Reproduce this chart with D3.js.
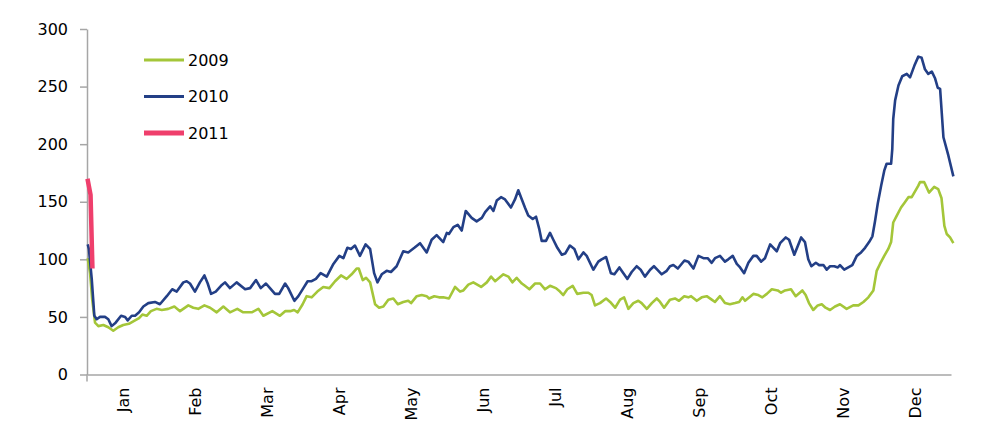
<!DOCTYPE html>
<html>
<head>
<meta charset="utf-8">
<script src="https://cdn.jsdelivr.net/npm/d3@7"></script>
<style>
  html, body { margin: 0; padding: 0; background: #ffffff; }
  svg { display: block; }
  text { font-family: "DejaVu Sans", Verdana, sans-serif; fill: #000; }
</style>
</head>
<body>
<svg id="chart" width="996" height="446"></svg>
<script>
// ---- data ----
const months = ["Jan","Feb","Mar","Apr","May","Jun","Jul","Aug","Sep","Oct","Nov","Dec"];
const yTicks = [0, 50, 100, 150, 200, 250, 300];
const seriesNames = ["2009", "2010", "2011"];

// [day of year, value]
const s2009 = [
[0.3,101],[1.3,88],[2.2,65],[3.4,45],[4.8,42],[6.9,43],[9.0,41],[11.1,38],[13.2,41],[15.3,43],
[17.7,44],[20.3,47],[22.0,49],[23.4,52],[25.2,51],[27.0,55],[29.4,57],[31.6,56],[34.3,57],[36.9,59],
[39.3,55],[42.8,60],[44.9,58],[47.0,57],[49.6,60],[52.0,58],[54.8,54],[57.6,59],[60.4,54],[63.5,57],
[66.0,54],[69.6,54],[72.4,57],[74.5,51],[78.3,55],[81.5,51],[83.7,55],[85.8,55],[87.5,56],[89.0,54],
[91.1,61],[92.8,68],[94.9,67],[97.3,72],[99.8,76],[102.4,75],[104.8,81],[107.3,86],[109.7,83],[111.8,87],
[113.9,92],[114.8,92],[116.5,82],[117.9,84],[119.6,80],[121.7,61],[123.4,58],[125.2,59],[127.3,65],[129.4,66],
[131.3,61],[133.6,63],[135.7,64],[136.9,62],[139.3,68],[141.4,69],[143.5,68],[144.5,66],[146.7,68],[148.7,67],
[150.5,67],[152.9,66],[155.5,76],[157.6,72],[159.0,73],[161.1,78],[163.2,80],[166.5,76],[168.9,80],[170.7,85],
[172.4,81],[175.9,87],[178.0,85],[179.7,80],[181.5,84],[183.7,79],[185.0,77],[186.9,74],[189.3,79],[191.4,79],
[193.5,74],[195.6,77],[198.1,75],[199.8,72],[201.2,69],[202.9,74],[205.2,77],[207.1,70],[209.7,71],[211.8,71],
[213.2,69],[214.6,60],[216.7,62],[219.3,66],[221.0,63],[223.1,58],[225.2,65],[226.9,67],[228.7,57],[230.8,62],
[232.9,64],[234.3,62],[236.5,57],[238.6,62],[240.7,66],[242.1,63],[243.8,58],[246.3,65],[248.4,66],[250.1,64],
[252.3,68],[254.0,67],[255.2,68],[257.6,64],[259.7,67],[261.8,68],[263.9,65],[265.3,63],[267.4,68],[269.5,62],
[271.6,61],[273.8,62],[275.5,63],[276.9,67],[278.0,64],[281.5,70],[283.6,69],[285.3,67],[287.2,70],[289.3,74],
[291.8,73],[293.2,71],[294.9,73],[297.4,74],[299.4,68],[302.2,73],[303.6,69],[305.0,62],[306.8,56],[308.7,60],
[310.4,61],[312.0,58],[313.9,56],[316.0,59],[318.1,61],[320.9,57],[323.7,60],[325.9,60],[328.0,63],[330.1,67],
[332.2,73],[333.6,90],[335.0,96],[336.8,103],[338.5,109],[339.7,115],[340.6,132],[342.1,138],[343.9,145],[345.3,149],
[347.0,154],[348.4,154],[349.5,158],[351.2,164],[351.9,167],[353.7,167],[355.7,158],[357.9,163],[359.6,161],[361.0,153],
[362.2,129],[363.2,122],[364.6,119],[366.0,114]
];

const s2010 = [
[0.3,113],[0.8,109],[2.0,83],[3.1,51],[4.1,48],[5.5,50],[7.6,50],[9.0,48],[10.4,42],[12.1,45],
[14.4,51],[16.1,50],[17.2,47],[18.9,51],[20.3,51],[22.0,54],[23.8,59],[25.9,62],[28.7,63],[30.8,61],
[33.7,68],[36.0,74],[37.9,72],[40.7,80],[42.1,81],[43.5,79],[45.6,72],[47.7,80],[49.6,86],[51.0,79],
[52.4,70],[54.4,72],[56.6,77],[58.3,80],[60.4,75],[63.2,80],[66.8,74],[68.9,75],[71.4,82],[73.4,75],
[75.6,79],[77.3,75],[79.4,70],[81.2,70],[83.7,79],[85.0,75],[87.6,64],[89.3,68],[91.4,75],[93.2,81],
[94.9,81],[96.7,83],[98.7,88],[101.3,85],[104.1,96],[106.6,103],[108.3,101],[110.0,110],[111.5,109],[113.2,112],
[115.3,103],[117.7,113],[119.6,109],[121.3,88],[122.7,80],[124.5,87],[126.6,90],[128.4,89],[130.8,94],[133.6,107],
[135.7,106],[138.3,110],[140.7,114],[143.5,106],[145.6,117],[147.7,121],[150.5,115],[152.0,123],[152.9,122],[154.8,128],
[156.6,130],[158.3,125],[160.0,142],[162.5,136],[164.6,133],[166.8,136],[168.2,141],[170.3,146],[171.7,142],[173.1,151],
[174.9,154],[176.6,152],[179.1,145],[180.8,152],[182.2,160],[183.7,152],[185.0,145],[186.4,138],[188.3,135],[189.7,137],
[191.1,126],[192.1,116],[193.9,116],[195.6,123],[197.0,117],[198.7,110],[200.6,104],[202.0,105],[204.0,112],[205.9,109],
[207.6,100],[209.7,106],[211.1,103],[213.9,91],[216.0,98],[217.4,100],[219.3,102],[221.3,88],[222.8,87],[224.9,93],
[226.6,88],[228.3,83],[230.1,89],[232.2,94],[233.9,91],[235.7,85],[237.9,91],[239.5,94],[240.9,91],[242.8,87],
[244.9,90],[246.3,94],[247.7,95],[249.6,92],[252.4,99],[254.0,98],[256.2,92],[258.3,103],[260.4,101],[262.2,101],
[263.9,97],[265.3,101],[267.4,103],[269.5,98],[270.9,100],[272.8,103],[274.5,96],[275.9,93],[277.6,88],[279.4,97],
[281.5,103],[282.9,103],[284.8,98],[286.4,101],[288.6,113],[290.0,110],[291.4,107],[292.8,114],[295.2,119],[296.6,117],
[298.8,104],[301.7,119],[303.3,115],[304.7,100],[306.0,94],[307.9,97],[309.3,95],[311.1,95],[312.5,91],[313.9,94],
[315.7,94],[317.2,93],[318.1,95],[319.9,91],[321.6,93],[323.3,95],[325.2,103],[327.0,106],[328.7,110],[330.4,115],
[331.8,120],[332.9,133],[334.1,149],[335.5,164],[336.8,177],[337.8,183],[339.7,183],[340.2,196],[340.6,222],[341.4,238],
[342.8,251],[344.4,259],[346.3,261],[347.7,258],[349.5,268],[351.2,276],[352.6,275],[354.0,265],[355.4,261],[356.9,263],
[358.3,257],[359.4,249],[360.4,248],[361.8,206],[363.9,190],[366.0,172]
];

const s2011 = [[0.2,170],[1.5,156],[2.3,92]];

const colors = { "2009": "#a4c639", "2010": "#233f86", "2011": "#ef3f6c" };
const widths = { "2009": 2.6, "2010": 2.6, "2011": 4.5 };

// ---- layout ----
const svg = d3.select("#chart");
const mLeft = 87, mRight = 951, mTop = 29, mBottom = 374.5;

const x = d3.scaleLinear().domain([0, 365]).range([mLeft, mRight]);
const xm = d3.scaleBand().domain(months).range([mLeft, mRight]);
const y = d3.scaleLinear().domain([0, 300]).range([mBottom, mTop]);

const axisColor = "#a6a6a6";

// y axis
const gy = svg.append("g").attr("transform", `translate(${mLeft},0)`)
  .call(d3.axisLeft(y).tickValues(yTicks).tickSize(7).tickPadding(12).tickSizeOuter(0));
gy.select(".domain").attr("stroke", axisColor).attr("stroke-width", 1.5);
gy.selectAll(".tick line").attr("stroke", axisColor).attr("stroke-width", 1.5);
gy.selectAll(".tick text").style("font-family", '"DejaVu Sans", Verdana, sans-serif')
  .style("font-size", "16px").attr("fill", "#000");

// x axis
const gx = svg.append("g").attr("transform", `translate(0,${mBottom})`)
  .call(d3.axisBottom(xm).tickSize(0).tickSizeOuter(0).tickPadding(0));
gx.select(".domain").attr("stroke", axisColor).attr("stroke-width", 1.5);
gx.selectAll(".tick text")
  .style("font-family", '"DejaVu Sans", Verdana, sans-serif')
  .style("font-size", "16px").attr("fill", "#000")
  .attr("text-anchor", "end")
  .attr("dy", "0.35em")
  .attr("transform", "translate(0,13) rotate(-90)")
  .attr("x", 0).attr("y", 0);
gx.append("line").attr("x1", mLeft).attr("x2", mLeft).attr("y1", 0).attr("y2", 7)
  .attr("stroke", axisColor).attr("stroke-width", 1.5);

// lines
const line = d3.line().x(d => x(d[0])).y(d => y(d[1]));
const dataMap = { "2009": s2009, "2010": s2010, "2011": s2011 };
seriesNames.forEach(name => {
  svg.append("path").datum(dataMap[name])
    .attr("fill", "none")
    .attr("stroke", colors[name])
    .attr("stroke-width", widths[name])
    .attr("stroke-linejoin", "round")
    .attr("stroke-linecap", "butt")
    .attr("d", line);
});

// legend
const lg = svg.append("g");
seriesNames.forEach((name, i) => {
  const ly = 60 + i * 36.5;
  lg.append("line").attr("x1", 144).attr("x2", 184).attr("y1", ly).attr("y2", ly)
    .attr("stroke", colors[name]).attr("stroke-width", name === "2011" ? 5 : 3);
  lg.append("text").attr("x", 188).attr("y", ly).attr("dy", "0.36em")
    .style("font-size", "16px").text(name);
});
</script>
</body>
</html>
